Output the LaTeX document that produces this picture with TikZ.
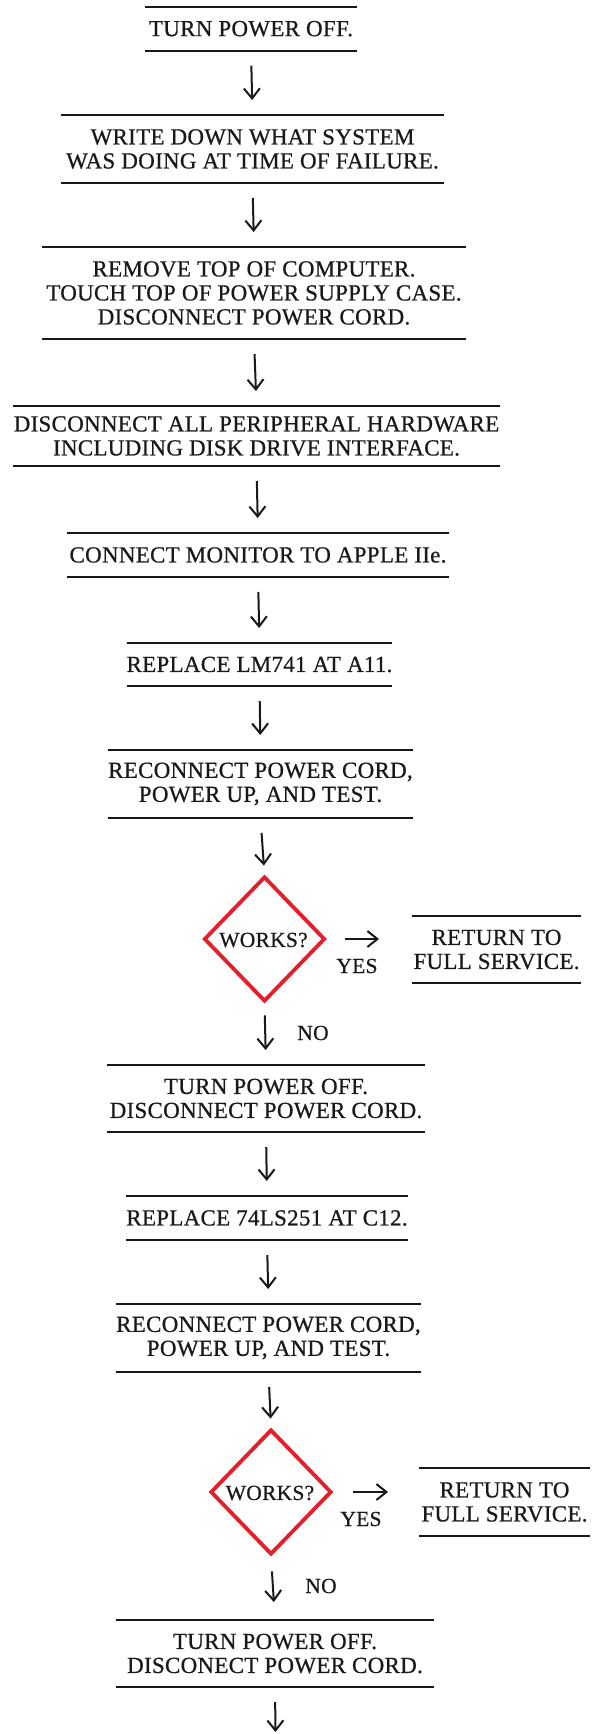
\documentclass[tikz,border=0pt]{standalone}
\usepackage{fontspec}
\setmainfont{Liberation Serif}
\newfontfamily\stepfont[LetterSpace=1.2,FakeBold=0.6]{Liberation Serif}
\usetikzlibrary{shapes.geometric,arrows.meta}
\definecolor{diared}{RGB}{228,30,42}
\definecolor{ink}{RGB}{25,25,25}
\begin{document}
\begin{tikzpicture}[x=1pt,y=-1pt,
  rulestyle/.style={draw=ink, line width=1.8pt},
  stepbox/.style={align=center, inner sep=0pt, outer sep=0pt, text=ink,
    font=\stepfont\fontsize{23}{24}\selectfont,
    append after command={(\tikzlastnode.north west) edge[rulestyle] (\tikzlastnode.north east)
      (\tikzlastnode.south west) edge[rulestyle] (\tikzlastnode.south east)}},
  dia/.style={shape=diamond, draw=diared, line width=3.8pt, inner sep=0pt,
    minimum width=121pt, minimum height=125pt},
  diatext/.style={font=\stepfont\fontsize{21.5}{23}\selectfont, inner sep=0pt, text=ink},
  lbl/.style={font=\stepfont\fontsize{21.5}{23}\selectfont, inner sep=0pt, text=ink},
  arr/.style={draw=ink, line width=2pt, -{Straight Barb[length=10pt,width=16pt]},
    shorten <=15pt, shorten >=15pt}
]
\fill[white] (0,0) rectangle (597,1734);
\useasboundingbox (0,0) rectangle (597,1734);

\node[stepbox, minimum width=212pt, minimum height=44pt] (b1) at (251,28.7) {TURN POWER OFF.};
\node[stepbox, minimum width=383pt, minimum height=68pt] (b2) at (252.5,149) {WRITE DOWN WHAT SYSTEM\\WAS DOING AT TIME OF FAILURE.};
\node[stepbox, minimum width=424pt, minimum height=92pt] (b3) at (254,293) {REMOVE TOP OF COMPUTER.\\TOUCH TOP OF POWER SUPPLY CASE.\\DISCONNECT POWER CORD.};
\node[stepbox, minimum width=487pt, minimum height=60pt] (b4) at (256.5,436) {DISCONNECT ALL PERIPHERAL HARDWARE\\INCLUDING DISK DRIVE INTERFACE.};
\node[stepbox, minimum width=382pt, minimum height=44pt] (b5) at (258,555) {CONNECT MONITOR TO APPLE IIe.};
\node[stepbox, minimum width=255pt, minimum height=43pt] (b6) at (259.5,664.5) {REPLACE LM741 AT A11.};
\node[stepbox, minimum width=297pt, minimum height=68pt] (b7) at (260.5,784) {RECONNECT POWER CORD,\\POWER UP, AND TEST.};
\node[dia] (d1) at (264.5,939) {};
\node[diatext] (t1) at (263.5,940) {WORKS?};
\node[stepbox, minimum width=169pt, minimum height=67pt] (r1) at (496.5,949.5) {RETURN TO\\FULL SERVICE.};
\node[lbl] (y1) at (357,966) {YES};
\node[lbl] (n1) at (313,1033) {NO};
\node[stepbox, minimum width=318pt, minimum height=67pt] (b8) at (266,1098.5) {TURN POWER OFF.\\DISCONNECT POWER CORD.};
\node[stepbox, minimum width=275pt, minimum height=44pt] (b9) at (267,1218) {REPLACE 74LS251 AT C12.};
\node[stepbox, minimum width=297pt, minimum height=68pt] (b10) at (268.5,1338) {RECONNECT POWER CORD,\\POWER UP, AND TEST.};
\node[dia] (d2) at (271,1492) {};
\node[diatext] (t2) at (270,1493) {WORKS?};
\node[stepbox, minimum width=171pt, minimum height=68pt] (r2) at (504.5,1502) {RETURN TO\\FULL SERVICE.};
\node[lbl] (y2) at (361,1519) {YES};
\node[lbl] (n2) at (321,1586) {NO};
\node[stepbox, minimum width=318pt, minimum height=67pt] (b11) at (275,1653.5) {TURN POWER OFF.\\DISCONECT POWER CORD.};
\coordinate (e11) at (275.5,1733);

\draw[arr] (b1.south) -- (b2.north);
\draw[arr] (b2.south) -- (b3.north);
\draw[arr] (b3.south) -- (b4.north);
\draw[arr] (b4.south) -- (b5.north);
\draw[arr] (b5.south) -- (b6.north);
\draw[arr] (b6.south) -- (b7.north);
\draw[arr, shorten >=9pt] (b7.south) -- (d1.north);
\draw[arr, shorten <=18pt, shorten >=33pt] (d1.east) -- (d1.east -| r1.west);
\draw[arr, shorten <=12pt] (d1.south) -- (b8.north);
\draw[arr] (b8.south) -- (b9.north);
\draw[arr] (b9.south) -- (b10.north);
\draw[arr, shorten >=9pt] (b10.south) -- (d2.north);
\draw[arr, shorten <=20pt, shorten >=31pt] (d2.east) -- (d2.east -| r2.west);
\draw[arr, shorten <=15pt, shorten >=18pt] (d2.south) -- (b11.north);
\draw[arr, shorten >=1pt] (b11.south) -- (e11);
\end{tikzpicture}
\end{document}
